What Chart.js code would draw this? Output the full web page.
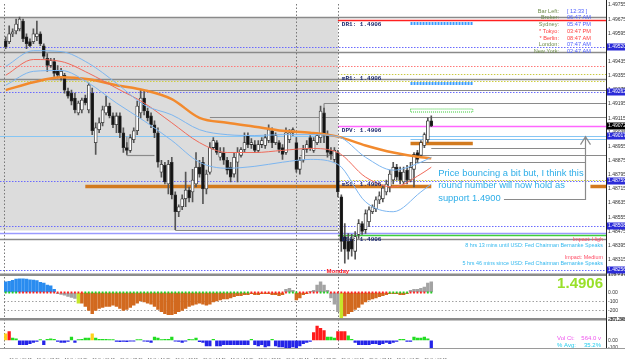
<!DOCTYPE html>
<html>
<head>
<meta charset="utf-8">
<script src="https://cdn.jsdelivr.net/npm/chart.js@4.4.1/dist/chart.umd.min.js"></script>
<style>
  html, body { margin: 0; padding: 0; background: #fff; }
  canvas { display: block; }
</style>
</head>
<body>
<canvas id="eurusd-m15" width="625" height="359"></canvas>
<script>
// EURUSD M15, Fri 16 Oct -> Mon 19 Oct 2009
const opens = [
  1.49553, 1.49548, 1.49592, 1.49609, 1.49620, 1.49665, 1.49576, 1.49548, 1.49548, 1.49576,
  1.49592, 1.49525, 1.49453, 1.49413, 1.49436, 1.49385, 1.49341, 1.49358, 1.49268, 1.49257,
  1.49229, 1.49145, 1.49162, 1.49229, 1.49162, 1.49257, 1.48977, 1.49050, 1.49089, 1.49145,
  1.49184, 1.49128, 1.49078, 1.49128, 1.49033, 1.48949, 1.48933, 1.48994, 1.49044, 1.49145,
  1.49229, 1.49156, 1.49128, 1.49078, 1.49033, 1.48810, 1.48849, 1.48743, 1.48866, 1.48681,
  1.48586, 1.48614, 1.48659, 1.48709, 1.48698, 1.48743, 1.48838, 1.48866, 1.48715, 1.48810,
  1.48949, 1.48977, 1.48894, 1.48921, 1.48877, 1.48838, 1.48799, 1.48866, 1.48905, 1.48938,
  1.49017, 1.48966, 1.48966, 1.48933, 1.48966, 1.48961, 1.48989, 1.49044, 1.48977, 1.48977,
  1.48949, 1.48921, 1.48994, 1.49033, 1.48977, 1.48826, 1.48877, 1.48938, 1.49005, 1.48933,
  1.48977, 1.49005, 1.49145, 1.49017, 1.48933, 1.48882, 1.48921, 1.48670, 1.48446, 1.48418,
  1.48430, 1.48362, 1.48458, 1.48519, 1.48485, 1.48530, 1.48586, 1.48603, 1.48653, 1.48659,
  1.48698, 1.48726, 1.48765, 1.48838, 1.48810, 1.48754, 1.48821, 1.48765, 1.48826, 1.48921,
  1.48905, 1.48961, 1.48994, 1.49100
];
const highs = [
  1.49576, 1.49637, 1.49620, 1.49676, 1.49687, 1.49676, 1.49592, 1.49564, 1.49620, 1.49665,
  1.49603, 1.49536, 1.49480, 1.49453, 1.49453, 1.49413, 1.49397, 1.49369, 1.49285, 1.49274,
  1.49257, 1.49212, 1.49229, 1.49246, 1.49313, 1.49285, 1.49089, 1.49117, 1.49184, 1.49240,
  1.49201, 1.49145, 1.49145, 1.49145, 1.49061, 1.48977, 1.49022, 1.49061, 1.49212, 1.49274,
  1.49268, 1.49173, 1.49145, 1.49100, 1.49061, 1.48877, 1.48866, 1.48877, 1.48894, 1.48698,
  1.48625, 1.48681, 1.48810, 1.48726, 1.48826, 1.48921, 1.48877, 1.48894, 1.48821, 1.48977,
  1.49005, 1.48989, 1.48949, 1.48949, 1.48894, 1.48866, 1.48921, 1.48949, 1.48949, 1.49033,
  1.49033, 1.49000, 1.48989, 1.48989, 1.49005, 1.49022, 1.49078, 1.49061, 1.49033, 1.48989,
  1.48966, 1.49061, 1.49050, 1.49061, 1.49005, 1.48894, 1.48961, 1.48989, 1.49017, 1.49005,
  1.49033, 1.49184, 1.49173, 1.49044, 1.48949, 1.48949, 1.48933, 1.48681, 1.48519, 1.48463,
  1.48458, 1.48474, 1.48541, 1.48530, 1.48597, 1.48614, 1.48625, 1.48670, 1.48698, 1.48737,
  1.48765, 1.48821, 1.48866, 1.48854, 1.48838, 1.48838, 1.48849, 1.48866, 1.48921, 1.48933,
  1.48989, 1.49033, 1.49117, 1.49128
];
const lows = [
  1.49508, 1.49536, 1.49576, 1.49592, 1.49609, 1.49548, 1.49508, 1.49520, 1.49536, 1.49553,
  1.49525, 1.49453, 1.49380, 1.49402, 1.49352, 1.49341, 1.49330, 1.49257, 1.49229, 1.49190,
  1.49145, 1.49134, 1.49145, 1.49190, 1.49145, 1.49022, 1.48910, 1.49033, 1.49072, 1.49134,
  1.49117, 1.49061, 1.49033, 1.49005, 1.48921, 1.48910, 1.48921, 1.48977, 1.49022, 1.49117,
  1.49134, 1.49100, 1.49061, 1.49005, 1.48838, 1.48782, 1.48743, 1.48687, 1.48659, 1.48485,
  1.48558, 1.48597, 1.48614, 1.48642, 1.48642, 1.48726, 1.48782, 1.48631, 1.48687, 1.48799,
  1.48938, 1.48910, 1.48877, 1.48854, 1.48799, 1.48754, 1.48782, 1.48754, 1.48894, 1.48921,
  1.48949, 1.48944, 1.48921, 1.48921, 1.48949, 1.48944, 1.48977, 1.48949, 1.48966, 1.48921,
  1.48882, 1.48910, 1.48977, 1.49017, 1.48810, 1.48799, 1.48866, 1.48921, 1.48933, 1.48921,
  1.48966, 1.48977, 1.48977, 1.48894, 1.48882, 1.48866, 1.48670, 1.48362, 1.48295, 1.48318,
  1.48335, 1.48318, 1.48435, 1.48458, 1.48463, 1.48502, 1.48575, 1.48586, 1.48631, 1.48642,
  1.48681, 1.48698, 1.48743, 1.48765, 1.48743, 1.48743, 1.48743, 1.48754, 1.48726, 1.48866,
  1.48894, 1.48949, 1.48977, 1.49067
];
const closes = [
  1.49520, 1.49592, 1.49603, 1.49648, 1.49676, 1.49564, 1.49536, 1.49525, 1.49592, 1.49592,
  1.49536, 1.49464, 1.49413, 1.49441, 1.49369, 1.49358, 1.49380, 1.49274, 1.49240, 1.49212,
  1.49162, 1.49201, 1.49218, 1.49201, 1.49302, 1.49044, 1.49061, 1.49089, 1.49162, 1.49184,
  1.49128, 1.49078, 1.49128, 1.49033, 1.48949, 1.48933, 1.49005, 1.49044, 1.49184, 1.49229,
  1.49156, 1.49117, 1.49078, 1.49033, 1.48866, 1.48854, 1.48754, 1.48854, 1.48681, 1.48586,
  1.48614, 1.48659, 1.48709, 1.48664, 1.48765, 1.48838, 1.48799, 1.48715, 1.48799, 1.48949,
  1.48989, 1.48921, 1.48921, 1.48877, 1.48821, 1.48782, 1.48894, 1.48921, 1.48938, 1.48977,
  1.48966, 1.48977, 1.48933, 1.48966, 1.48989, 1.49005, 1.49050, 1.48977, 1.49017, 1.48938,
  1.48910, 1.49033, 1.49033, 1.49050, 1.48826, 1.48877, 1.48938, 1.48966, 1.48949, 1.48989,
  1.49017, 1.49156, 1.49017, 1.48921, 1.48910, 1.48933, 1.48698, 1.48418, 1.48374, 1.48362,
  1.48374, 1.48446, 1.48519, 1.48474, 1.48575, 1.48597, 1.48614, 1.48653, 1.48676, 1.48720,
  1.48743, 1.48799, 1.48838, 1.48782, 1.48765, 1.48810, 1.48765, 1.48838, 1.48910, 1.48882,
  1.48977, 1.49022, 1.49100, 1.49072
];

// moving averages, read every 8th bar
const maBars = [0, 8, 16, 24, 32, 40, 48, 56, 64, 72, 80, 88, 96, 104, 112, 120, 123];
const maSlow = [1.49274, 1.49318, 1.49346, 1.49335, 1.49302, 1.49274, 1.49223, 1.49117, 1.49089, 1.49067, 1.49044, 1.49033, 1.49011, 1.48961, 1.48921, 1.48894, 1.48888];
const maMid = [1.49358, 1.49447, 1.49436, 1.49369, 1.49285, 1.49201, 1.49089, 1.48977, 1.48921, 1.48921, 1.48933, 1.48944, 1.48921, 1.48782, 1.48726, 1.48799, 1.48838];
const bandUpper = [1.49408, 1.49497, 1.49492, 1.49425, 1.49313, 1.49190, 1.49134, 1.49050, 1.49022, 1.49017, 1.49022, 1.49022, 1.49011, 1.48894, 1.48821, 1.48866, 1.48894];
const bandLower = [1.49302, 1.49380, 1.49385, 1.49313, 1.49201, 1.49100, 1.48989, 1.48866, 1.48832, 1.48843, 1.48866, 1.48882, 1.48854, 1.48642, 1.48586, 1.48698, 1.48743];

// middle pane histogram + squeeze dots (1 = red)
const oscValues = [
  119, 125, 137, 150, 155, 155, 150, 143, 140, 135,
  115, 105, 85, 75, 36, -12, -20, -30, -45, -55,
  -65, -119, -119, -155, -202, -238, -202, -179, -167, -155,
  -155, -143, -155, -179, -202, -190, -167, -143, -119, -95,
  -107, -119, -131, -155, -190, -214, -238, -250, -250, -238,
  -214, -202, -179, -155, -143, -131, -119, -131, -143, -131,
  -107, -95, -83, -71, -71, -60, -48, -36, -36, -24,
  -24, -12, -24, -24, -12, -12, -12, -24, -24, -36,
  -24, 36, 48, 24, -83, -60, -24, -12, 12, 24,
  83, 119, 83, 24, -60, -131, -214, -295, -262, -238,
  -214, -190, -167, -131, -107, -83, -71, -60, -48, -36,
  -24, -12, -12, -12, -24, -24, -12, 24, 36, 36,
  48, 60, 107, 119
];
const squeeze = [
  0, 0, 0, 0, 1, 1, 1, 1, 1, 1, 1, 1, 1, 1, 1, 1, 1, 1, 1, 1,
  1, 1, 1, 0, 0, 0, 0, 0, 0, 0, 0, 0, 0, 0, 0, 0, 0, 0, 0, 0,
  0, 0, 0, 0, 0, 0, 0, 0, 0, 0, 0, 0, 0, 0, 0, 0, 0, 0, 0, 0,
  0, 0, 0, 0, 0, 0, 0, 0, 0, 0, 0, 1, 1, 1, 1, 1, 1, 1, 1, 1,
  1, 1, 0, 0, 0, 1, 1, 1, 1, 1, 1, 0, 0, 0, 1, 1, 1, 1, 1, 1,
  1, 1, 1, 1, 1, 1, 1, 1, 1, 1, 1, 0, 0, 0, 0, 0, 0, 1, 1, 1,
  1, 1, 0, 0
];

// bottom pane volume oscillator
const volValues = [
  90, 120, 30, 20, -60, -60, -60, -45, -30, -15,
  10, -60, 15, 20, 15, -15, -30, -30, -15, 45,
  -30, 10, 15, 30, 30, 90, 30, 15, 15, 15,
  10, 10, -15, -20, -15, -20, -10, -10, 10, 10,
  -10, -15, -30, 45, 30, 10, 15, 15, 45, -10,
  -15, -30, -10, 15, 10, 30, -20, -30, -75, -75,
  15, -75, -75, -60, -60, -60, -60, -60, -60, -60,
  -60, 15, -60, -75, -60, -90, -75, 15, -75, -90,
  -90, -100, -100, -90, -100, -75, -45, -30, -15, 105,
  195, 165, 135, 45, 45, 30, 120, 120, 120, 60,
  15, -30, -60, -60, -60, -60, -45, -45, -60, -45,
  -30, -45, -30, -15, 15, 15, -15, -15, 45, 30,
  30, 45, 20, -100
];

const xTickLabels = [
  '16 Oct 00:15', '16 Oct 02:15', '16 Oct 04:15', '16 Oct 06:15', '16 Oct 08:15', '16 Oct 10:15',
  '16 Oct 12:15', '16 Oct 14:15', '16 Oct 16:15', '16 Oct 18:15', '16 Oct 20:15', '18 Oct 22:15',
  '19 Oct 00:15', '19 Oct 02:15', '19 Oct 04:15', '19 Oct 06:15'
];
const priceTicks = [
  1.49755, 1.49675, 1.49595, 1.49515, 1.49435, 1.49355, 1.49275, 1.49195, 1.49115, 1.49035,
  1.48955, 1.48875, 1.48795, 1.48715, 1.48635, 1.48555, 1.48475, 1.48395, 1.48315, 1.48235
];
const oscTicks = [198.737, 0, -100, -200, -301.563];
const volTicks = [287.2488, 0, -100];

// chart objects drawn on the price pane
const fridayRange = [1.49687, 1.48480];
const mondayBar = 96;
const separatorBars = [-0.4, 84, 96];
const greyLevels = [1.49687, 1.49492, 1.49335, 1.48430];
const blueDotLevels = [1.49520, 1.49262, 1.48759, 1.48508, 1.48256];
const supportLevels = [1.49017, 1.49000];
const redDotLevel = 1.49408;
const oliveDotLevel = 1.49324;
const periwinkleLevel = 1.48463;
const orangeLevel = 1.48731;
const greySegments = [
  [1.49274, 39, null], [1.49201, 92, null], [1.49123, 59, null], [1.48905, 35, 43],
  [1.48905, 85, null], [1.48949, 123, 167.5], [1.48866, 117, 167.5], [1.48485, 49, 96]
];
const greyUprights = [[92, 1.49201, 1.49117], [35, 1.49017, 1.48905]];
const pivotNames = ['DR1', 'mR1', 'DPV', 'mS1', 'DS1'];
const pivotPrices = [1.49671, 1.49363, 1.49072, 1.48765, 1.48452];
const pivotShown = '1.4906';
const nextPivotPrices = [1.49654, 1.49313, 1.49162, 1.48977];
const bidPrice = 1.49072;

const clockLabels = ['Bar Left:', 'Broker:', 'Sydney:', '* Tokyo:', '* Berlin:', 'London:', 'New York:'];
const clockValues = ['[ 12:33 ]', '06:47 AM', '05:47 PM', '03:47 PM', '08:47 AM', '07:47 AM', '02:47 AM'];
const newsLines = [
  ['Impact: High', 1.48430], ['8 hrs 13 mins until USD: Fed Chairman Bernanke Speaks', 1.48393],
  ['Impact: Medium', 1.48329], ['5 hrs 46 mins since USD: Fed Chairman Bernanke Speaks', 1.48293]
];
const noteLines = ['Price bouncing a bit but, I think this', 'round number will now hold as', 'support 1.4900'];
const notePrices = [1.48804, 1.48734, 1.48664];
const lastPrice = '1.4906';
const volCount = '564.0 v';
const volAvg = '35.2%';

const slotCount = 174;
const slots = Array.from({ length: slotCount }, (_, i) => i);
const family = "'Liberation Sans', Arial, sans-serif";
const AXIS_W = 19;

function oscColour(v, j) {
  if (v > 0) return j < 15 ? '#2a8cf0' : '#a3a3a3';
  if (j === 21 || j === 97) return '#c6e62a';
  if ((j >= 15 && j <= 20) || (j >= 94 && j <= 96)) return '#a3a3a3';
  return '#d2691e';
}
function volColour(v) {
  if (v >= 100) return '#ff1a1a';
  if (v >= 80) return '#ffd21a';
  if (v > 0) return '#22dd22';
  return '#2424e8';
}

const overlay = {
  id: 'mt4Overlay',
  beforeDatasetsDraw(chart) {
    const { ctx, chartArea: a, scales: { x, y, osc } } = chart;
    const px = j => x.getPixelForValue(j);
    const py = p => Math.round(y.getPixelForValue(p)) + 0.5;
    const line = (x0, y0, x1, y1, colour, width, dash) => {
      ctx.beginPath();
      ctx.setLineDash(dash || []);
      ctx.lineWidth = width;
      ctx.strokeStyle = colour;
      ctx.moveTo(x0, y0);
      ctx.lineTo(x1, y1);
      ctx.stroke();
    };
    const level = (p, j0, j1, colour, width, dash) =>
      line(j0 == null ? 0 : px(j0), py(p), j1 == null ? a.right : px(j1), py(p), colour, width, dash);
    const dot = [1.5, 1.5];

    ctx.save();
    const bt = y.getPixelForValue(fridayRange[0]);
    const bb = y.getPixelForValue(fridayRange[1]);
    ctx.fillStyle = '#dcdcdc';
    ctx.fillRect(0, bt, px(mondayBar), bb - bt);

    greyLevels.forEach(p => level(p, null, null, '#8a8a8a', 1.3));
    blueDotLevels.forEach(p => level(p, null, null, '#6a6aff', 1, dot));
    level(redDotLevel, null, null, '#ff7878', 1, dot);
    level(oliveDotLevel, null, null, '#cfcf40', 1, dot);
    level(supportLevels[0], null, null, '#86c6f4', 1);
    level(supportLevels[1], 117, null, '#86c6f4', 1);
    level(periwinkleLevel, null, null, '#9a9aff', 1.6);
    greySegments.forEach(([p, j0, j1]) => level(p, j0, j1, '#8a8a8a', 1.2));
    greyUprights.forEach(([j, p0, p1]) => line(px(j), py(p0), px(j), py(p1), '#8a8a8a', 1.2));

    const pivotStyle = [['#ff2020', 1.6], ['#c9c940', 1, dot], ['#ff66ff', 1.6], ['#c9c940', 1, dot], ['#3ccf3c', 1.6]];
    pivotPrices.forEach((p, k) => level(p, mondayBar, null, ...pivotStyle[k]));

    level(orangeLevel, 23, 123, '#d27a1e', 3.5);
    level(orangeLevel, 169, null, '#d27a1e', 3.5);

    const n0 = px(117), n1 = px(135);
    line(n0, py(nextPivotPrices[0]), n1, py(nextPivotPrices[0]), '#3a9cff', 3, [2, 1]);
    line(n0, py(nextPivotPrices[1]), n1, py(nextPivotPrices[1]), '#3a9cff', 3, [2, 1]);
    ctx.setLineDash([1, 1]);
    ctx.strokeStyle = '#35c935';
    ctx.lineWidth = 1;
    ctx.strokeRect(n0, py(nextPivotPrices[2]) - 1.5, n1 - n0, 3);
    line(n0, py(nextPivotPrices[3]), n1, py(nextPivotPrices[3]), '#d27a1e', 3.5);

    [-100, -200].forEach(v => {
      const yy = Math.round(osc.getPixelForValue(v)) + 0.5;
      line(a.left, yy, a.right, yy, '#a0a0a0', 1, [1.5, 2]);
    });
    separatorBars.forEach(j => {
      const xx = Math.round(px(j)) + 0.5;
      line(xx, a.top, xx, a.bottom, '#777777', 1, [1.5, 2]);
    });
    ctx.restore();
  },
  afterDraw(chart) {
    const { ctx, chartArea: a, scales: { x, y, osc, vol } } = chart;
    const px = j => x.getPixelForValue(j);
    const py = p => y.getPixelForValue(p);
    const text = (s, tx, ty, colour, font, align, base) => {
      ctx.font = font;
      ctx.fillStyle = colour;
      ctx.textAlign = align || 'left';
      ctx.textBaseline = base || 'middle';
      ctx.fillText(s, tx, ty);
    };
    ctx.save();

    // pane borders
    ctx.setLineDash([]);
    ctx.strokeStyle = '#8c8c8c';
    ctx.lineWidth = 2.5;
    [y.bottom, osc.bottom].forEach(b => {
      ctx.beginPath(); ctx.moveTo(0, b); ctx.lineTo(a.right, b); ctx.stroke();
    });
    ctx.lineWidth = 1;
    ctx.strokeStyle = '#9a9a9a';
    ctx.beginPath(); ctx.moveTo(0, a.bottom + 0.5); ctx.lineTo(625, a.bottom + 0.5); ctx.stroke();
    ctx.strokeStyle = '#222';
    ctx.beginPath(); ctx.moveTo(a.right + 0.5, 0); ctx.lineTo(a.right + 0.5, a.bottom); ctx.stroke();

    // pivot captions
    pivotNames.forEach((n, k) =>
      text(n + ': ' + pivotShown, px(mondayBar) + 4, py(pivotPrices[k]) + 1.5, '#1c2a6e',
        "bold 6px 'Liberation Mono', monospace", 'left', 'top'));
    text('Monday', px(mondayBar), py(1.48251), '#ff2020', 'bold 6px ' + family, 'center');

    // clocks
    clockLabels.forEach((l, k) => {
      const ty = a.top + 7 + k * 6.75;
      const red = l.startsWith('*');
      text(l, a.right - 47, ty, red ? '#ff4040' : '#6f8c4c', '5.6px ' + family, 'right');
      text(clockValues[k], a.right - 39, ty, red ? '#ff4040' : '#4a5cff', '5.6px ' + family, 'left');
    });

    // news
    newsLines.forEach(([s, p], k) =>
      text(s, a.right - 3, py(p), k % 2 ? '#33b8ee' : '#ff4d66', '5.4px ' + family, 'right'));

    // note + arrow
    const noteX = px(125);
    noteLines.forEach((s, k) => text(s, noteX, py(notePrices[k]), '#2eaee8', '9.4px ' + family));
    const ax = Math.round(px(167.5)) + 0.5;
    const ay0 = Math.round(py(1.48659)) + 0.5, ay1 = py(1.49011);
    ctx.strokeStyle = '#8a8a8a';
    ctx.lineWidth = 1.2;
    ctx.beginPath();
    ctx.moveTo(px(144), ay0); ctx.lineTo(ax, ay0); ctx.lineTo(ax, ay1);
    ctx.moveTo(ax - 5, ay1 + 8); ctx.lineTo(ax, ay1); ctx.lineTo(ax + 5, ay1 + 8);
    ctx.stroke();

    // indicator captions
    text(lastPrice, a.right - 3, osc.getPixelForValue(100), '#99e02a', 'bold 15px ' + family, 'right');
    const vy = vol.getPixelForValue(0);
    text('Vol Ct:', a.right - 49, vy - 2, '#ee55ee', '6px ' + family);
    text(volCount, a.right - 5, vy - 2, '#ee55ee', '6px ' + family, 'right');
    text('% Avg:', a.right - 49, vy + 5.5, '#22ccee', '6px ' + family);
    text(volAvg, a.right - 5, vy + 5.5, '#22ccee', '6px ' + family, 'right');

    // price tags on the axis
    const tag = (p, bg) => {
      const ty = Math.round(py(p));
      ctx.fillStyle = bg;
      ctx.fillRect(a.right + 1, ty - 3.5, AXIS_W, 7);
      text(p.toFixed(5), a.right + 2, ty, '#ffffff', '5px ' + family);
    };
    blueDotLevels.concat([supportLevels[0]]).forEach(p => tag(p, '#2b2bd8'));
    tag(bidPrice, '#000000');
    ctx.restore();
  }
};

const candleWicks = slots.slice(0, opens.length).map(j => [lows[j], highs[j]]);
const candleBodies = slots.slice(0, opens.length).map(j => [opens[j], closes[j]]);
const bodyFill = closes.map((c, j) => (c >= opens[j] ? '#ffffff' : '#141414'));
const maPoints = vals => maBars.map((j, k) => ({ x: j, y: vals[k] }));
const lineSet = (vals, colour, width) => ({
  type: 'line', data: maPoints(vals), yAxisID: 'y', borderColor: colour, borderWidth: width,
  pointRadius: 0, cubicInterpolationMode: 'monotone', order: 0
});

const ctx = document.getElementById('eurusd-m15').getContext('2d');
new Chart(ctx, {
  type: 'bar',
  data: {
    labels: slots,
    datasets: [
      { data: candleWicks, yAxisID: 'y', backgroundColor: '#555555', barThickness: 1, grouped: false, order: 3 },
      { data: candleBodies, yAxisID: 'y', backgroundColor: bodyFill, borderColor: '#2e2e2e', borderWidth: 0.8,
        borderSkipped: false, barThickness: 3, minBarLength: 1, grouped: false, order: 2 },
      lineSet(bandUpper, '#7db6f0', 1),
      lineSet(bandLower, '#7db6f0', 1),
      lineSet(maMid, '#f06a5a', 1),
      lineSet(maSlow, '#f28a2e', 2.5),
      { data: oscValues, yAxisID: 'osc', backgroundColor: oscValues.map(oscColour),
        barThickness: 2.8, grouped: false, order: 2 },
      { type: 'line', data: squeeze.map(() => 0), yAxisID: 'osc', showLine: false, pointStyle: 'rect',
        pointRadius: 1.3, pointBorderWidth: 0,
        pointBackgroundColor: squeeze.map(s => (s ? '#ff2020' : '#22cc22')), order: 1 },
      { data: volValues, yAxisID: 'vol', backgroundColor: volValues.map(volColour),
        barThickness: 2.6, grouped: false, order: 2 }
    ]
  },
  options: {
    responsive: false,
    animation: false,
    devicePixelRatio: 1,
    events: [],
    layout: { padding: { left: 2, right: 0, top: 0, bottom: 0 } },
    plugins: { legend: { display: false }, tooltip: { enabled: false } },
    scales: {
      x: {
        type: 'category', offset: true, position: 'bottom',
        grid: { display: false }, border: { display: false },
        ticks: {
          autoSkip: false, maxRotation: 0, align: 'start', padding: 1, color: '#333',
          font: { size: 4, family },
          callback: (v, i) => (i % 8 === 1 && xTickLabels[(i - 1) / 8]) || ''
        },
        afterFit: s => { s.height = 11; s.paddingLeft = 0; s.paddingRight = 0; }
      },
      y: {
        type: 'linear', position: 'right', stack: 'panes', stackWeight: 274,
        min: 1.48229, max: 1.49761,
        afterBuildTicks: s => { s.ticks = priceTicks.map(v => ({ value: v })); },
        afterFit: s => { s.width = AXIS_W; s.paddingTop = 0; s.paddingBottom = 0; },
        grid: { drawOnChartArea: false, drawTicks: false, color: 'transparent' },
        border: { display: false },
        ticks: { autoSkip: false, padding: 2, color: '#333', font: { size: 5, family }, callback: v => v.toFixed(5) }
      },
      osc: {
        type: 'linear', position: 'right', stack: 'panes', stackWeight: 45,
        min: -301.563, max: 198.737,
        afterBuildTicks: s => { s.ticks = oscTicks.map(v => ({ value: v })); },
        afterFit: s => { s.width = AXIS_W; s.paddingTop = 0; s.paddingBottom = 0; },
        grid: { drawOnChartArea: false, drawTicks: false, color: 'transparent' },
        border: { display: false },
        ticks: { autoSkip: false, padding: 2, color: '#333', font: { size: 5, family },
          callback: v => (v === 0 ? '0.00' : String(v)) }
      },
      vol: {
        type: 'linear', position: 'right', stack: 'panes', stackWeight: 29,
        min: -105, max: 287.2488,
        afterBuildTicks: s => { s.ticks = volTicks.map(v => ({ value: v })); },
        afterFit: s => { s.width = AXIS_W; s.paddingTop = 0; s.paddingBottom = 0; },
        grid: { drawOnChartArea: false, drawTicks: false, color: 'transparent' },
        border: { display: false },
        ticks: { autoSkip: false, padding: 2, color: '#333', font: { size: 5, family },
          callback: v => (v === 0 ? '0.00' : String(v)) }
      }
    }
  },
  plugins: [overlay]
});
</script>
</body>
</html>
